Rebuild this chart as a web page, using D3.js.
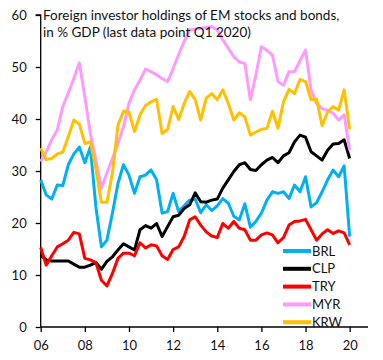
<!DOCTYPE html>
<html><head><meta charset="utf-8">
<script src="https://cdn.jsdelivr.net/npm/d3@7"></script>
<style>
html,body{margin:0;padding:0;background:#fff;}
svg{display:block;font-family:Lato,"Open Sans",sans-serif;}
</style></head>
<body><svg id="c" width="383" height="360"></svg>
<script>
// quarterly observations 2006Q1 .. 2020Q1
const startYear = 2006;
const nQuarters = 57;
const tickYears = [2006, 2008, 2010, 2012, 2014, 2016, 2018, 2020];
const tickLabels = ["06", "08", "10", "12", "14", "16", "18", "20"];
const yTicks = [0, 10, 20, 30, 40, 50, 60];

const BRL = [28.3,25.4,24.6,27.3,27.2,31.2,33.3,34.6,31.6,34.6,23.1,15.4,16.7,21.9,27.6,31.2,29.2,25.7,28.9,29.2,
  30.2,28.3,21.9,22.2,25.7,22.2,23.3,24.4,24.6,22.0,23.5,22.4,23.3,24.7,23.8,21.3,20.6,23.7,19.2,20.3,
  21.9,24.4,26.0,25.7,26.0,24.7,27.3,26.0,28.9,23.1,23.9,26.0,28.3,30.2,28.9,31.0,17.4];
const CLP = [13.8,12.9,12.7,12.7,12.7,12.7,12.1,11.5,11.5,11.9,12.4,11.1,12.6,13.5,14.8,16.0,15.4,14.8,18.7,19.5,
  19.0,19.9,17.4,19.3,21.2,21.5,22.8,23.5,25.8,24.1,24.0,24.4,24.6,26.7,28.3,29.9,31.2,31.6,30.3,30.1,
  31.2,32.1,32.6,31.6,32.9,33.5,35.6,36.9,36.5,33.7,32.9,32.1,34.0,35.2,35.3,36.0,32.4];
const TRY = [15.3,11.9,13.7,15.4,16.0,16.7,18.2,17.9,13.2,12.9,12.4,9.0,7.9,10.3,13.2,14.2,14.2,13.7,16.2,15.2,
  15.8,15.6,13.7,13.0,14.9,15.4,17.4,20.6,21.2,19.6,18.3,17.5,17.2,19.9,19.0,20.3,19.0,18.7,16.7,16.7,
  17.7,18.1,17.7,16.2,17.2,19.6,20.3,20.4,20.7,18.7,16.7,17.9,18.7,18.0,18.5,18.1,15.8];
const MYR = [31.8,33.7,36.0,37.9,42.4,45.0,47.8,50.8,44.3,37.2,32.1,26.7,29.6,32.4,35.3,38.5,43.0,45.6,47.5,49.6,
  49.1,48.5,47.8,47.2,49.7,52.4,54.9,57.1,57.3,57.4,57.6,57.8,57.1,55.2,53.6,52.0,51.0,50.7,43.7,48.5,
  53.9,53.2,52.3,47.2,46.5,49.1,49.1,51.2,53.3,45.6,43.0,42.0,41.7,41.1,39.8,40.8,34.0];
const KRW = [34.4,32.2,32.4,33.3,33.6,36.6,39.8,39.0,35.3,35.6,30.5,24.0,24.0,29.6,38.8,41.5,41.3,37.6,40.8,42.6,
  43.3,43.8,37.2,38.0,42.4,39.9,43.0,45.3,43.7,39.8,44.0,44.9,43.7,45.6,43.0,39.8,41.2,40.4,36.9,37.5,
  38.0,38.2,41.5,38.2,43.3,45.7,44.9,47.6,47.2,43.7,43.8,38.7,41.4,42.4,41.7,45.6,38.0];

const seriesNames = ["BRL", "CLP", "TRY", "MYR", "KRW"];
const seriesValues = [BRL, CLP, TRY, MYR, KRW];
const seriesColors = ["#00B0F0", "#000000", "#FF0000", "#FF99FF", "#FFC000"];

const titleLines = ["Foreign investor holdings of EM stocks and bonds,", "in % GDP (last data point Q1 2020)"];

const svg = d3.select("#c");
const x = d3.scaleLinear().domain([2006, 2020.83]).range([40.7, 368]);
const y = d3.scaleLinear().domain([0, 60]).range([327, 15]);
const dates = d3.range(nQuarters).map(i => startYear + i * 0.25);

// axes
const yAxis = svg.append("g").attr("transform", "translate(40.7,0)")
  .call(d3.axisLeft(y).tickValues(yTicks).tickSize(5).tickPadding(9).tickFormat(d3.format("d")));
const xAxis = svg.append("g").attr("transform", "translate(0,327)")
  .call(d3.axisBottom(x).tickValues(tickYears).tickSize(5).tickPadding(9).tickFormat((d, i) => tickLabels[i]));
[yAxis, xAxis].forEach(g => {
  g.select(".domain").attr("stroke", "#000").attr("stroke-width", 1.3);
  g.selectAll(".tick line").attr("stroke", "#000").attr("stroke-width", 1.3);
  g.selectAll(".tick text").attr("font-family", "Lato, sans-serif").attr("font-size", 13).attr("fill", "#111");
});
yAxis.select(".domain").attr("d", "M-5,15H0V327");
xAxis.select(".domain").attr("d", "M40.7,0H368");

// lines
const line = d3.line().x((d, i) => x(dates[i])).y(d => y(d));
seriesValues.forEach((vals, k) => {
  svg.append("path").datum(vals).attr("d", line)
    .attr("fill", "none").attr("stroke", seriesColors[k]).attr("stroke-width", 3)
    .attr("stroke-linejoin", "round");
});

// title
titleLines.forEach((t, i) => {
  svg.append("text").attr("x", 43).attr("y", 19.5 + i * 17.3)
    .attr("font-size", 13.5).attr("fill", "#111").text(t);
});

// legend
const lg = svg.append("g");
seriesNames.forEach((n, k) => {
  const yy = 251 + k * 17.8;
  lg.append("line").attr("x1", 283).attr("x2", 311).attr("y1", yy).attr("y2", yy)
    .attr("stroke", seriesColors[k]).attr("stroke-width", 4);
  lg.append("text").attr("x", 312).attr("y", yy).attr("dy", "0.36em")
    .attr("font-size", 13).attr("fill", "#111").text(n);
});
</script></body></html>
